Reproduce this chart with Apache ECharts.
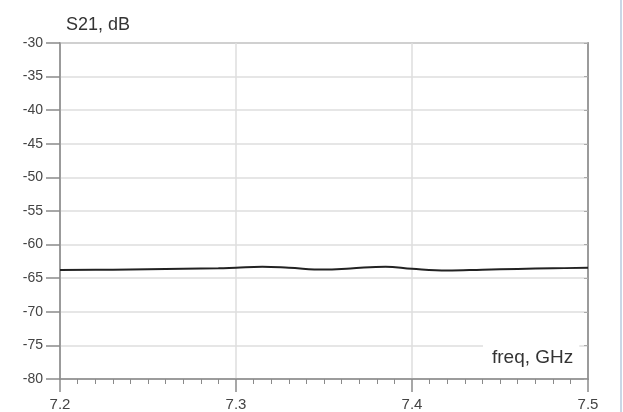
<!DOCTYPE html>
<html>
<head>
<meta charset="utf-8">
<script src="https://cdn.jsdelivr.net/npm/echarts@6/dist/echarts.min.js"></script>
<style>
html,body{margin:0;padding:0;background:#fff;}
#chart{width:623px;height:412px;}
</style>
</head>
<body>
<div id="chart"></div>
<script>
var freqGHz = [7.20, 7.23, 7.25, 7.27, 7.29, 7.30, 7.315, 7.33, 7.35, 7.365, 7.385, 7.40, 7.42, 7.44, 7.46, 7.48, 7.50];
var s21dB   = [-63.78, -63.74, -63.68, -63.60, -63.52, -63.43, -63.30, -63.45, -63.72, -63.55, -63.28, -63.60, -63.86, -63.74, -63.62, -63.53, -63.44];
var xTicks = [7.2, 7.3, 7.4, 7.5];
var yTicks = [-80, -75, -70, -65, -60, -55, -50, -45, -40, -35, -30];
var yTitle = 'S21, dB';
var xTitle = 'freq, GHz';

var chart = echarts.init(document.getElementById('chart'), null, {renderer: 'canvas'});
var fontFam = '"Liberation Sans", Arial, sans-serif';
chart.setOption({
  animation: false,
  backgroundColor: '#fff',
  title: {
    text: yTitle, left: 61, top: 11,
    textStyle: {fontFamily: fontFam, fontSize: 18, fontWeight: 'normal', color: '#333'}
  },
  grid: {left: 60, right: 35, top: 43, bottom: 32, show: true, borderColor: '#8a8a8a', borderWidth: 1.5, backgroundColor: 'transparent'},
  xAxis: {
    type: 'value', min: xTicks[0], max: xTicks[xTicks.length - 1], interval: 0.1,
    axisLine: {show: true, onZero: false, lineStyle: {color: '#8a8a8a', width: 1.5}},
    axisTick: {show: true, length: 13, lineStyle: {color: '#8a8a8a', width: 1.5}},
    minorTick: {show: true, splitNumber: 10, length: 5, lineStyle: {color: '#8a8a8a', width: 1}},
    axisLabel: {margin: 18, fontFamily: fontFam, fontSize: 15, color: '#444', formatter: function (v) { return v.toFixed(1); }},
    splitLine: {show: true, lineStyle: {color: '#dedede', width: 1.5}}
  },
  yAxis: [{
    type: 'value', min: yTicks[0], max: yTicks[yTicks.length - 1], interval: 5,
    axisLine: {show: true, onZero: false, lineStyle: {color: '#8a8a8a', width: 1.5}},
    axisTick: {show: true, length: 14, lineStyle: {color: '#8a8a8a', width: 1.5}},
    axisLabel: {margin: 17, fontFamily: fontFam, fontSize: 14, color: '#444', formatter: function (v) { return String(v); }},
    splitLine: {show: true, lineStyle: {color: '#dedede', width: 1.5}}
  }, {
    type: 'value', position: 'right', min: yTicks[0], max: yTicks[yTicks.length - 1], interval: 5,
    axisLine: {show: true, lineStyle: {color: '#8a8a8a', width: 1.5}},
    axisTick: {show: true, inside: true, length: 4, lineStyle: {color: '#aaa', width: 1}},
    axisLabel: {show: false},
    splitLine: {show: false}
  }],
  graphic: [
    {type: 'rect', left: 620, top: 0, shape: {width: 2, height: 412}, style: {fill: '#c9d7e6'}, silent: true},
    {type: 'text', left: 483, top: 344, z: 100,
     style: {text: xTitle, fontFamily: fontFam, fontSize: 19, fill: '#333', backgroundColor: '#fff', padding: [4, 6, 3, 9]}}
  ],
  series: [{
    type: 'line', data: freqGHz.map(function (f, i) { return [f, s21dB[i]]; }),
    smooth: 0.4, showSymbol: false, symbol: 'none',
    lineStyle: {color: '#222', width: 2}
  }]
});
</script>
</body>
</html>
